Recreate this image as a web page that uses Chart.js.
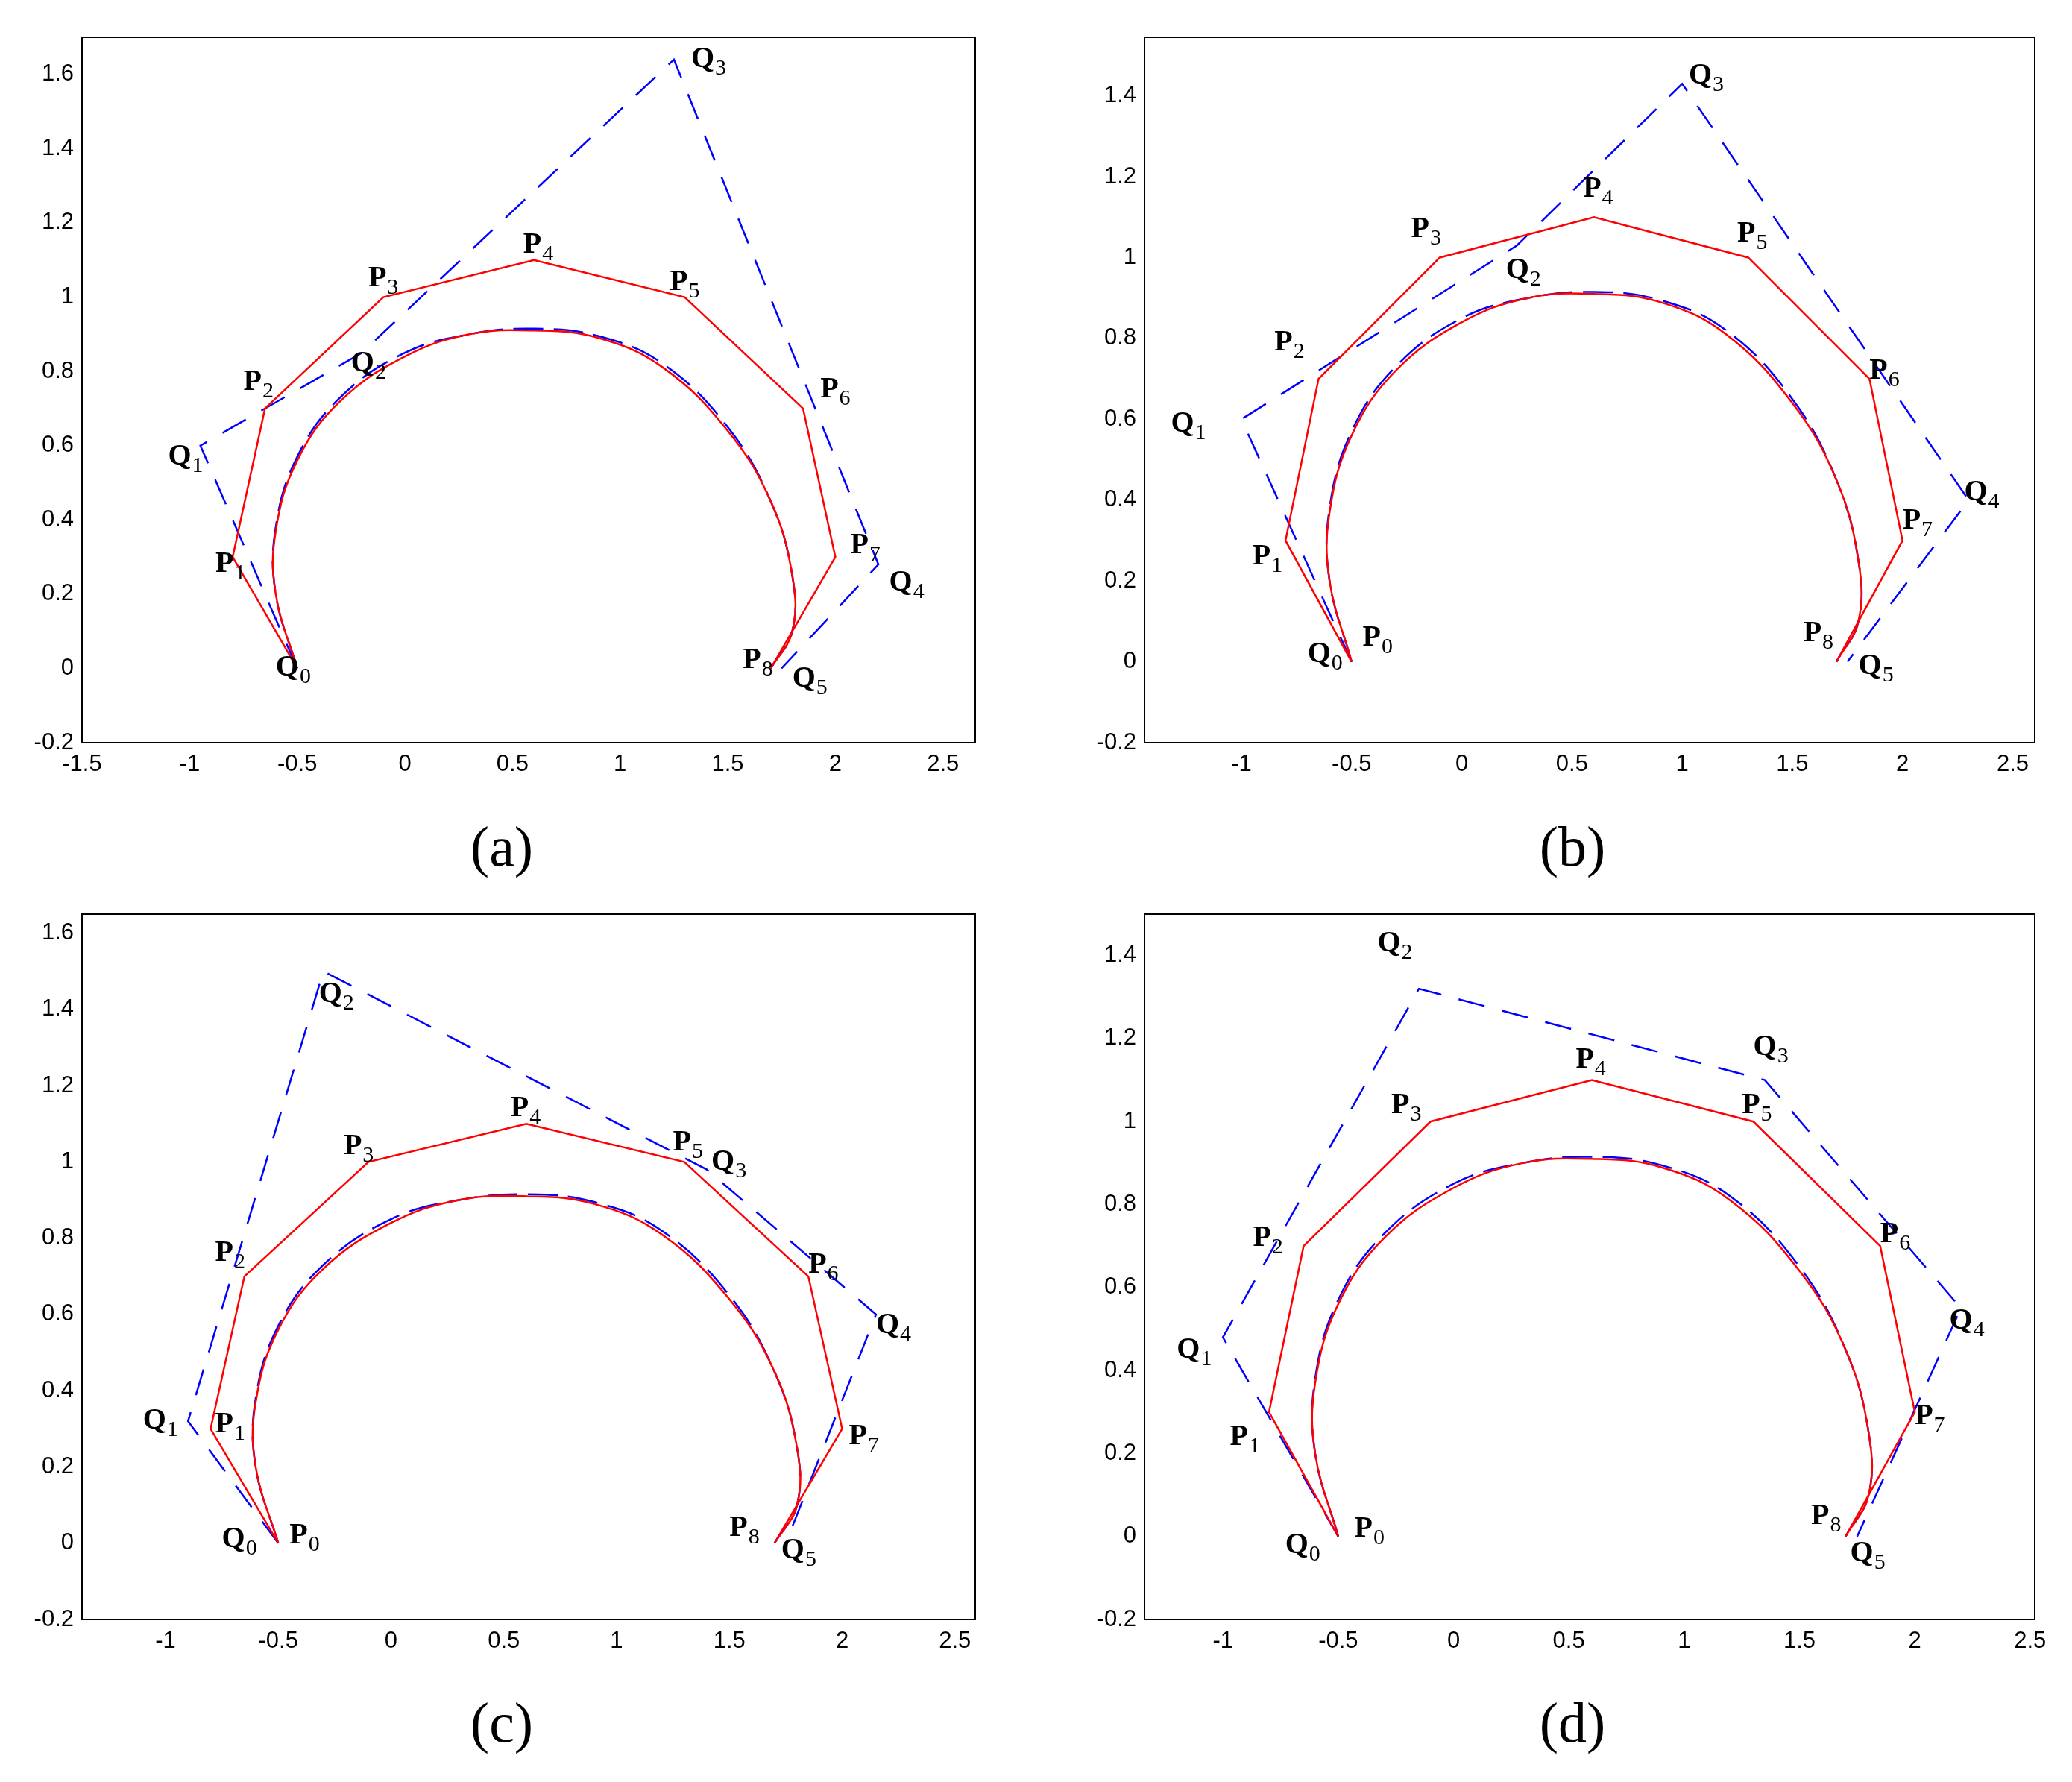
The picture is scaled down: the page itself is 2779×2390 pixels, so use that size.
<!DOCTYPE html>
<html><head><meta charset="utf-8">
<script src="https://cdn.jsdelivr.net/npm/chart.js@4/dist/chart.umd.min.js"></script>
<style>
body{margin:0;width:2779px;height:2390px;background:#fff;position:relative;overflow:hidden}
.p{position:absolute}
.cap{position:absolute;font-family:"Liberation Serif","DejaVu Serif",serif;font-size:76px;transform:translateX(-50%)}
</style></head><body>
<div class="p" style="left:0;top:0;width:1340px;height:1062px"><canvas id="ca"></canvas></div>
<div class="p" style="left:1425px;top:0;width:1354px;height:1062px"><canvas id="cb"></canvas></div>
<div class="p" style="left:0;top:1176px;width:1340px;height:1062px"><canvas id="cc"></canvas></div>
<div class="p" style="left:1425px;top:1176px;width:1354px;height:1062px"><canvas id="cd"></canvas></div>
<div class="cap" style="left:673px;top:1092px">(a)</div>
<div class="cap" style="left:2109px;top:1092px">(b)</div>
<div class="cap" style="left:673px;top:2267px">(c)</div>
<div class="cap" style="left:2109px;top:2267px">(d)</div>
<script>
// control polygon P (same in all panels)
const pX = [-0.5, -0.8, -0.65, -0.1, 0.6, 1.3, 1.85, 2.0, 1.7]
const pY = [0, 0.3, 0.7, 1.0, 1.1, 1.0, 0.7, 0.3, 0]
// curve
const arcX = [-0.5, -0.6, -0.6, -0.5, -0.3, 0, 0.3, 0.6, 0.9, 1.2, 1.5, 1.7, 1.8, 1.8, 1.7]
const arcY = [0, 0.2, 0.37, 0.56, 0.72, 0.84, 0.9, 0.91, 0.89, 0.81, 0.64, 0.45, 0.25, 0.1, 0]
const arc2Y = [0, 0.2, 0.38, 0.57, 0.73, 0.85, 0.9, 0.915, 0.895, 0.82, 0.65, 0.45, 0.25, 0.1, 0]

// Q polygons per panel
const qAX = [-0.5, -0.95, -0.2, 1.25, 2.2, 1.75]
const qAY = [0, 0.6, 0.85, 1.64, 0.28, 0]
const qBX = [-0.5, -1.0, 0.25, 1.0, 2.3, 1.75]
const qBY = [0, 0.6, 1.03, 1.43, 0.4, 0]
const qCX = [-0.5, -0.9, -0.3, 1.4, 2.15, 1.75]
const qCY = [0, 0.32, 1.5, 0.98, 0.6, 0]
const qDX = [-0.5, -1.0, -0.15, 1.35, 2.2, 1.75]
const qDY = [0, 0.48, 1.32, 1.1, 0.55, 0]

// label anchor positions (data coords)
const labA = [['P',1,-0.88,0.26],['P',2,-0.75,0.75],['P',3,-0.17,1.03],['P',4,0.55,1.12],['P',5,1.23,1.02],['P',6,1.93,0.73],['P',7,2.07,0.31],['P',8,1.57,0.0],
  ['Q',0,-0.6,-0.02],['Q',1,-1.1,0.55],['Q',2,-0.25,0.8],['Q',3,1.33,1.62],['Q',4,2.25,0.21],['Q',5,1.8,-0.05]]
const labB = [['P',0,-0.45,0.04],['P',1,-0.95,0.24],['P',2,-0.85,0.77],['P',3,-0.23,1.05],['P',4,0.55,1.15],['P',5,1.25,1.04],['P',6,1.85,0.7],['P',7,2.0,0.33],['P',8,1.55,0.05],
  ['Q',0,-0.7,0.0],['Q',1,-1.32,0.57],['Q',2,0.2,0.95],['Q',3,1.03,1.43],['Q',4,2.28,0.4],['Q',5,1.8,-0.03]]
const labC = [['P',0,-0.45,0.0],['P',1,-0.78,0.29],['P',2,-0.78,0.74],['P',3,-0.21,1.02],['P',4,0.53,1.12],['P',5,1.25,1.03],['P',6,1.85,0.71],['P',7,2.03,0.26],['P',8,1.5,0.02],
  ['Q',0,-0.75,-0.01],['Q',1,-1.1,0.3],['Q',2,-0.32,1.42],['Q',3,1.42,0.98],['Q',4,2.15,0.55],['Q',5,1.73,-0.04]]
const labD = [['P',0,-0.43,0.0],['P',1,-0.97,0.22],['P',2,-0.87,0.7],['P',3,-0.27,1.02],['P',4,0.53,1.13],['P',5,1.25,1.02],['P',6,1.85,0.71],['P',7,2.0,0.27],['P',8,1.55,0.03],
  ['Q',0,-0.73,-0.04],['Q',1,-1.2,0.43],['Q',2,-0.33,1.41],['Q',3,1.3,1.16],['Q',4,2.15,0.5],['Q',5,1.72,-0.06]]

function pts(xs, ys) { return xs.map((x, i) => ({x: x, y: ys[i]})) }

const labelPlugin = {
  id: 'labels',
  afterDraw(chart) {
    const ctx = chart.ctx, a = chart.chartArea
    ctx.save()
    ctx.strokeStyle = '#000'; ctx.lineWidth = 2
    ctx.strokeRect(a.left, a.top, a.right - a.left, a.bottom - a.top)
    const sx = chart.scales.x, sy = chart.scales.y
    ctx.fillStyle = '#000'; ctx.textBaseline = 'alphabetic'
    chart.options.plugins.labels.items.forEach(l => {
      const px = sx.getPixelForValue(l[2]), py = sy.getPixelForValue(l[3])
      ctx.font = 'bold 40px "Liberation Serif"'
      ctx.fillText(l[0], px, py)
      const w = ctx.measureText(l[0]).width
      ctx.font = '30px "Liberation Serif"'
      ctx.fillText(String(l[1]), px + w + 1, py + 10)
    })
    ctx.restore()
  }
}

function makeChart(id, qx, qy, xmin, xmax, ymax, xt, yt, labs, rightPad) {
  new Chart(document.getElementById(id), {
    type: 'scatter',
    data: {datasets: [
      {data: pts(arcX, arcY), showLine: true, borderColor: '#ff0000', borderWidth: 2.5, pointRadius: 0, tension: 0.4},
      {data: pts(arcX, arc2Y), showLine: true, borderColor: '#0000ff', borderWidth: 2.5, borderDash: [40, 14], pointRadius: 0, tension: 0.4},
      {data: pts(pX, pY), showLine: true, borderColor: '#ff0000', borderWidth: 2.5, pointRadius: 0},
      {data: pts(qx, qy), showLine: true, borderColor: '#0000ff', borderWidth: 2.5, borderDash: [36, 24], pointRadius: 0}
    ]},
    options: {
      responsive: false, animation: false, devicePixelRatio: 1,
      layout: {padding: {top: 50, right: rightPad, left: 0, bottom: 0}},
      plugins: {legend: {display: false}, tooltip: {enabled: false}, labels: {items: labs}},
      scales: {
        x: {type: 'linear', min: xmin, max: xmax,
          afterBuildTicks: s => { s.ticks = xt.map(v => ({value: v})) },
          afterFit: s => { s.height = 66 },
          grid: {display: false}, border: {display: false},
          ticks: {color: '#000', font: {family: 'Liberation Sans', size: 31}, maxRotation: 0, callback: v => String(v)}},
        y: {type: 'linear', min: -0.2, max: ymax,
          afterBuildTicks: s => { s.ticks = yt.map(v => ({value: v})) },
          afterFit: s => { s.width = 110 },
          grid: {display: false}, border: {display: false},
          ticks: {color: '#000', font: {family: 'Liberation Sans', size: 31}, callback: v => String(v)}}
      }
    },
    plugins: [labelPlugin]
  })
}

const xtA = [-1.5, -1, -0.5, 0, 0.5, 1, 1.5, 2, 2.5]
const xtB = [-1, -0.5, 0, 0.5, 1, 1.5, 2, 2.5]
const ytA = [-0.2, 0, 0.2, 0.4, 0.6, 0.8, 1, 1.2, 1.4, 1.6]
const ytB = [-0.2, 0, 0.2, 0.4, 0.6, 0.8, 1, 1.2, 1.4]

for (const id of ['ca', 'cb', 'cc', 'cd']) {
  const c = document.getElementById(id)
  c.width = c.parentNode.clientWidth; c.height = c.parentNode.clientHeight
}
makeChart('ca', qAX, qAY, -1.5, 2.65, 1.7, xtA, ytA, labA, 32)
makeChart('cb', qBX, qBY, -1.44, 2.6, 1.545, xtB, ytB, labB, 50)
makeChart('cc', qCX, qCY, -1.37, 2.59, 1.65, xtB, ytA, labC, 32)
makeChart('cd', qDX, qDY, -1.34, 2.52, 1.5, xtB, ytB, labD, 50)
</script>
</body></html>
